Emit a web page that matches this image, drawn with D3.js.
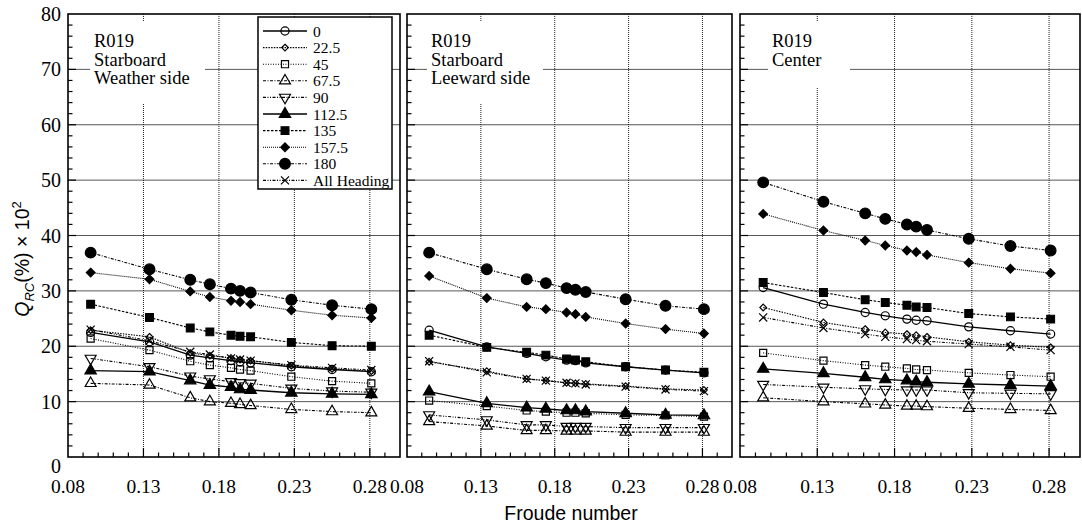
<!DOCTYPE html>
<html>
<head>
<meta charset="utf-8">
<script src="https://cdn.jsdelivr.net/npm/d3@7"></script>
<style>
  body { margin: 0; background: #fff; }
  svg { display: block; }
  .serif { font-family: 'Liberation Serif', 'Times New Roman', 'DejaVu Serif', serif; }
  .sans { font-family: 'Liberation Sans', Arial, sans-serif; }
</style>
</head>
<body>
<svg id="chart" width="1082" height="527"></svg>
<script>
// Froude numbers tested (same for all three panels)
const froude = [0.095, 0.134, 0.161, 0.174, 0.188, 0.194, 0.201, 0.228, 0.255, 0.281];
const headings = ['0', '22.5', '45', '67.5', '90', '112.5', '135', '157.5', '180', 'All Heading'];
const xTicks = [0.08, 0.13, 0.18, 0.23, 0.28];
const yTicks = [0, 10, 20, 30, 40, 50, 60, 70, 80];

// Q_RC x 10^2, one row per heading (order as headings)
const weatherSide = [
  [22.5, 20.8, 18.4, 17.9, 17.4, 17.2, 17.0, 16.3, 15.8, 15.4],
  [22.9, 21.7, 18.8, 18.3, 17.9, 17.6, 17.4, 16.5, 15.9, 15.5],
  [21.4, 19.3, 17.3, 16.6, 16.1, 15.8, 15.6, 14.5, 13.7, 13.3],
  [13.3, 13.0, 10.7, 10.0, 9.7, 9.5, 9.3, 8.6, 8.2, 8.0],
  [17.8, 16.3, 14.6, 14.1, 13.6, 13.4, 13.3, 12.4, 11.9, 11.7],
  [15.6, 15.4, 13.8, 13.0, 12.6, 12.2, 12.1, 11.6, 11.4, 11.3],
  [27.6, 25.2, 23.3, 22.6, 22.0, 21.8, 21.7, 20.7, 20.1, 20.0],
  [33.3, 32.1, 29.9, 28.9, 28.2, 28.0, 27.6, 26.5, 25.6, 25.1],
  [36.9, 33.9, 32.0, 31.2, 30.4, 30.0, 29.7, 28.4, 27.4, 26.7],
  [23.0, 21.0, 19.0, 18.5, 17.8, 17.6, 17.4, 16.6, 16.1, 15.7]
];
const leewardSide = [
  [22.9, 19.9, 18.7, 18.1, 17.5, 17.4, 17.0, 16.3, 15.7, 15.2],
  [17.2, 15.5, 14.1, 13.8, 13.4, 13.3, 13.2, 12.8, 12.3, 12.1],
  [10.2, 9.2, 8.4, 8.2, 8.0, 8.0, 7.9, 7.6, 7.5, 7.3],
  [6.4, 5.6, 4.8, 4.8, 4.7, 4.7, 4.7, 4.5, 4.5, 4.5],
  [7.6, 6.7, 5.8, 5.8, 5.5, 5.5, 5.5, 5.3, 5.3, 5.3],
  [11.8, 9.7, 8.9, 8.7, 8.4, 8.4, 8.2, 7.9, 7.6, 7.5],
  [22.0, 19.8, 18.9, 18.4, 17.7, 17.5, 17.2, 16.3, 15.7, 15.3],
  [32.7, 28.7, 27.1, 26.7, 26.1, 25.8, 25.3, 24.1, 23.1, 22.3],
  [36.9, 33.9, 32.1, 31.4, 30.5, 30.2, 29.8, 28.5, 27.3, 26.7],
  [17.3, 15.3, 14.1, 13.8, 13.4, 13.3, 13.1, 12.7, 12.2, 11.9]
];
const center = [
  [30.6, 27.6, 26.1, 25.5, 24.9, 24.7, 24.6, 23.5, 22.8, 22.2],
  [27.0, 24.3, 23.1, 22.5, 22.2, 22.0, 21.7, 20.8, 20.2, 19.8],
  [18.8, 17.4, 16.6, 16.3, 16.0, 15.8, 15.7, 15.2, 14.8, 14.5],
  [10.7, 10.0, 9.6, 9.4, 9.2, 9.2, 9.1, 8.8, 8.6, 8.4],
  [13.1, 12.6, 12.3, 12.2, 12.1, 12.1, 12.1, 11.6, 11.5, 11.4],
  [15.9, 15.1, 14.4, 14.0, 13.8, 13.6, 13.5, 13.2, 13.0, 12.8],
  [31.5, 29.7, 28.4, 27.9, 27.4, 27.1, 27.0, 25.9, 25.3, 24.9],
  [43.9, 40.9, 39.1, 38.2, 37.3, 37.0, 36.5, 35.1, 34.0, 33.2],
  [49.6, 46.1, 44.0, 43.0, 42.0, 41.6, 41.0, 39.4, 38.1, 37.3],
  [25.2, 23.3, 22.2, 21.7, 21.3, 21.1, 20.9, 20.4, 19.9, 19.3]
];

(function() {

  let svg = d3.select('#chart');
  let top = 14, bottom = 457;

  // marker + line style per heading
  let styles = [
    { type: d3.symbolCircle, size: 52, fill: 'none', dash: null },
    { type: d3.symbolDiamond2, size: 28, fill: 'none', dash: '1.5,1.2' },
    { type: d3.symbolSquare, size: 50, fill: 'none', dash: '1,1.5' },
    { type: d3.symbolTriangle, size: 52, fill: 'none', dash: '3,1.5,1,1.5' },
    { type: d3.symbolTriangle, size: 52, fill: 'none', dash: '3,1.5,1,1.5,1,1.5', rot: 180 },
    { type: d3.symbolTriangle, size: 56, fill: '#000', dash: null },
    { type: d3.symbolSquare, size: 60, fill: '#000', dash: '2.5,1.5' },
    { type: d3.symbolDiamond2, size: 48, fill: '#000', dash: '1,1' },
    { type: d3.symbolCircle, size: 90, fill: '#000', dash: '3,1.5,1,1.5' },
    { type: d3.symbolTimes, size: 44, fill: 'none', dash: '3,1.5,1,1.5,1,1.5' }
  ];

  let panels = [
    { data: weatherSide, left: 68, right: 400, label: ['R019', 'Starboard', 'Weather side'], box: [90, 22, 205, 103], legend: true, yLabels: true },
    { data: leewardSide, left: 407, right: 732, label: ['R019', 'Starboard', 'Leeward side'], box: [427, 22, 543, 103] },
    { data: center, left: 740, right: 1080, label: ['R019', 'Center'], box: [768, 22, 850, 87] }
  ];

  panels.forEach(drawPanel);

  function marker(sel, st) {
    sel.attr('d', d3.symbol().type(st.type).size(st.size))
      .attr('fill', st.fill)
      .attr('stroke', '#000')
      .attr('stroke-width', 1.2);
  }

  function drawPanel(p) {
    let x = d3.scaleLinear().domain([0.08, 0.30]).range([p.left, p.right]);
    let y = d3.scaleLinear().domain([0, 80]).range([bottom, top]);
    let g = svg.append('g');

    // grid
    g.selectAll('.hgrid').data(yTicks.slice(1, -1)).join('line')
      .attr('x1', p.left).attr('x2', p.right)
      .attr('y1', (d) => y(d)).attr('y2', (d) => y(d))
      .attr('stroke', '#444').attr('stroke-width', 0.9);
    g.selectAll('.vgrid').data(xTicks.slice(1)).join('line')
      .attr('x1', (d) => x(d)).attr('x2', (d) => x(d))
      .attr('y1', top).attr('y2', bottom)
      .attr('stroke', '#222').attr('stroke-width', 1)
      .attr('stroke-dasharray', '1,1');

    // annotation block hides the grid behind it
    g.append('rect')
      .attr('x', p.box[0]).attr('y', p.box[1])
      .attr('width', p.box[2] - p.box[0]).attr('height', p.box[3] - p.box[1])
      .attr('fill', '#fff');
    g.append('text')
      .attr('class', 'serif').attr('font-size', 18.5)
      .selectAll('tspan').data(p.label).join('tspan')
        .attr('x', p.box[0] + 4)
        .attr('y', (d, i) => 47 + i * 18.5)
        .text((d) => d);

    // series
    let line = d3.line()
      .x((d, i) => x(froude[i]))
      .y((d) => y(d));

    p.data.forEach((vals, k) => {
      let st = styles[k];
      g.append('path')
        .datum(vals)
        .attr('fill', 'none')
        .attr('stroke', '#000')
        .attr('stroke-width', st.dash ? 1.1 : 1.3)
        .attr('stroke-dasharray', st.dash)
        .attr('d', line);
    });
    p.data.forEach((vals, k) => {
      let st = styles[k];
      g.selectAll(null).data(vals).join('path')
        .attr('transform', (d, i) => `translate(${x(froude[i])},${y(d)})` + (st.rot ? ` rotate(${st.rot})` : ''))
        .call(marker, st);
    });

    // frame
    g.append('rect')
      .attr('x', p.left).attr('y', top)
      .attr('width', p.right - p.left).attr('height', bottom - top)
      .attr('fill', 'none').attr('stroke', '#000').attr('stroke-width', 1.6);

    // y ticks (inward, minor every 2)
    g.selectAll('.ytick').data(d3.range(2, 80, 2)).join('line')
      .attr('x1', p.left).attr('x2', (d) => p.left + (d % 10 === 0 ? 8 : 4.5))
      .attr('y1', (d) => y(d)).attr('y2', (d) => y(d))
      .attr('stroke', '#000').attr('stroke-width', 1.2);
    // x ticks (inward, minor every 0.01)
    g.selectAll('.xtick').data(d3.range(9, 30).map((d) => d / 100)).join('line')
      .attr('x1', (d) => x(d)).attr('x2', (d) => x(d))
      .attr('y1', bottom).attr('y2', (d) => bottom - (Math.round(d * 100) % 5 === 3 ? 9 : 4.5))
      .attr('stroke', '#000').attr('stroke-width', 1.2);

    g.selectAll('.xlab').data(xTicks).join('text')
      .attr('class', 'serif')
      .attr('x', (d) => x(d)).attr('y', 493)
      .attr('text-anchor', 'middle')
      .attr('font-size', 19.5)
      .text((d) => d3.format('.2f')(d));

    if (p.yLabels) {
      g.selectAll('.ylab').data(yTicks).join('text')
        .attr('class', 'serif')
        .attr('x', p.left - 7)
        .attr('y', (d) => y(d) + (d === 0 ? 16 : 7))
        .attr('text-anchor', 'end')
        .attr('font-size', 20)
        .text((d) => d);
    }

    if (p.legend) drawLegend();
  }

  function drawLegend() {
    let lg = svg.append('g');
    lg.append('rect')
      .attr('x', 258).attr('y', 17).attr('width', 134).attr('height', 172)
      .attr('fill', '#fff').attr('stroke', '#000').attr('stroke-width', 1.5);
    let rows = lg.selectAll('.row').data(headings).join('g')
      .attr('transform', (d, i) => `translate(0,${31 + i * 16.6})`);
    rows.append('line')
      .attr('x1', 263).attr('x2', 307)
      .attr('stroke', '#000')
      .attr('stroke-width', (d, i) => styles[i].dash ? 1.1 : 1.3)
      .attr('stroke-dasharray', (d, i) => styles[i].dash);
    rows.append('path')
      .attr('transform', (d, i) => 'translate(285,0)' + (styles[i].rot ? ` rotate(${styles[i].rot})` : ''))
      .each(function(d, i) { d3.select(this).call(marker, styles[i]); });
    rows.append('text')
      .attr('class', 'serif')
      .attr('x', 313).attr('y', 5.5)
      .attr('font-size', 15.5)
      .text((d) => d);
  }

  // axis titles
  svg.append('text')
    .attr('class', 'sans')
    .attr('x', 571).attr('y', 520)
    .attr('text-anchor', 'middle')
    .attr('font-size', 19.5)
    .text('Froude number');

  let yt = svg.append('text')
    .attr('class', 'sans')
    .attr('transform', 'translate(29,259) rotate(-90)')
    .attr('text-anchor', 'middle')
    .attr('font-size', 19.5);
  yt.append('tspan').attr('font-style', 'italic').text('Q');
  yt.append('tspan').attr('font-style', 'italic').attr('font-size', 13).attr('dy', 5).text('RC');
  yt.append('tspan').attr('dy', -5).text('(%) × 10');
  yt.append('tspan').attr('font-size', 13).attr('dy', -8).text('2');

})();
</script>
</body>
</html>
